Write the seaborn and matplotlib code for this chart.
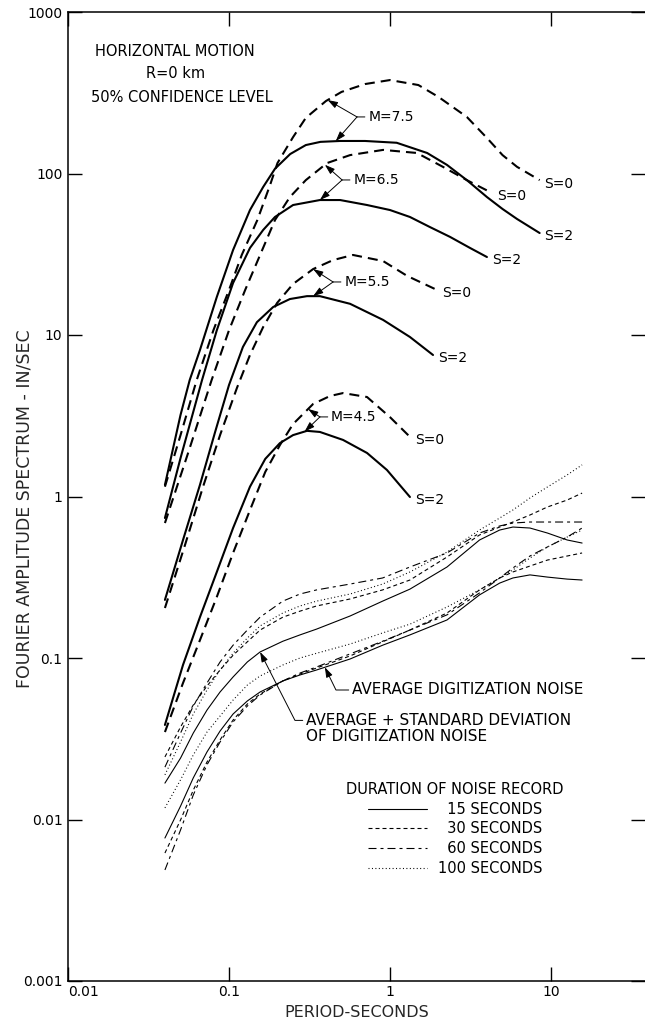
import numpy as np
import matplotlib
matplotlib.use("Agg")
import matplotlib.pyplot as plt
import seaborn as sns
from matplotlib.lines import Line2D
from matplotlib.ticker import NullLocator

# ---------------- data (period in s, amplitude in in/sec) ----------------
M75_S2_PERIOD = [0.04, 0.05, 0.057, 0.066, 0.084, 0.106, 0.135, 0.163, 0.193, 0.24, 0.3,
                 0.37, 0.49, 0.7, 1.1, 1.7, 2.26, 3.0, 4.0, 5.0, 6.15, 8.5]
M75_S2_AMP = [1.18, 3.2, 5.26, 8.07, 17.2, 33.6, 59.4, 82.5, 107, 132, 150,
              157, 159, 159, 155, 134, 113, 91, 71.5, 60.3, 52.3, 42.8]

M75_S0_PERIOD = [0.04, 0.05, 0.063, 0.08, 0.1, 0.12, 0.15, 0.18, 0.2, 0.25, 0.3,
                 0.4, 0.5, 0.7, 1.0, 1.5, 2.0, 3.0, 4.0, 5.0, 6.15, 8.5]
M75_S0_AMP = [1.15, 2.4, 5.26, 10.7, 19.0, 31.3, 51.5, 85, 116, 168, 221,
              281, 320, 358, 379, 353, 298, 224, 166, 130, 110, 91]

M65_S2_PERIOD = [0.04, 0.05, 0.068, 0.084, 0.106, 0.135, 0.163, 0.193, 0.25, 0.367,
                 0.49, 0.72, 1.0, 1.33, 1.77, 2.36, 3.14, 4.0]
M65_S2_AMP = [0.736, 1.73, 5.26, 10.7, 21.0, 34.6, 44.7, 53.8, 63.8, 68.5,
              68.5, 63.8, 59.4, 53.8, 46.6, 40.5, 34.6, 30.4]

M65_S0_PERIOD = [0.04, 0.0565, 0.078, 0.1, 0.126, 0.156, 0.193, 0.239, 0.3, 0.406,
                 0.565, 0.906, 1.47, 2.13, 3.0, 4.3]
M65_S0_AMP = [0.685, 1.94, 5.26, 10.7, 19.0, 31.3, 51.5, 71.5, 91, 116,
              130, 140, 134, 110, 91, 75.7]

M55_S2_PERIOD = [0.04, 0.0518, 0.066, 0.082, 0.1, 0.122, 0.149, 0.188, 0.239, 0.305,
                 0.367, 0.565, 0.906, 1.33, 1.85]
M55_S2_AMP = [0.229, 0.538, 1.18, 2.51, 4.90, 8.43, 12.0, 14.9, 16.7, 17.4,
              17.4, 15.6, 12.4, 9.72, 7.52]

M55_S0_PERIOD = [0.04, 0.0533, 0.069, 0.088, 0.112, 0.135, 0.163, 0.199, 0.25, 0.333,
                 0.443, 0.589, 0.906, 1.28, 1.96]
M55_S0_AMP = [0.204, 0.501, 1.15, 2.40, 4.70, 7.52, 11.2, 15.8, 20.7, 25.6,
              29.1, 31.3, 28.7, 23.2, 19.0]

M45_S2_PERIOD = [0.04, 0.0518, 0.066, 0.084, 0.106, 0.135, 0.168, 0.207, 0.25, 0.305,
                 0.367, 0.511, 0.72, 0.957, 1.33]
M45_S2_AMP = [0.0385, 0.0906, 0.179, 0.341, 0.638, 1.15, 1.71, 2.14, 2.40, 2.55,
              2.51, 2.24, 1.86, 1.46, 0.993]

M45_S0_PERIOD = [0.04, 0.0518, 0.066, 0.084, 0.106, 0.135, 0.168, 0.207, 0.25, 0.333,
                 0.424, 0.511, 0.72, 1.0, 1.33]
M45_S0_AMP = [0.0348, 0.070, 0.129, 0.239, 0.447, 0.824, 1.42, 2.08, 2.81, 3.74,
              4.19, 4.37, 4.13, 3.10, 2.34]

# digitization noise
NOISE_PERIOD = [0.04, 0.05, 0.06, 0.073, 0.088, 0.106, 0.13, 0.156, 0.216, 0.276, 0.35,
                0.565, 0.9, 1.33, 2.26, 3.6, 4.8, 5.8, 7.4, 9.5, 12.6, 15.6]
AVG_STD_15 = [0.0168, 0.0240, 0.0343, 0.0476, 0.0616, 0.0763, 0.0945, 0.109, 0.127, 0.139, 0.151,
              0.182, 0.225, 0.267, 0.366, 0.538, 0.620, 0.647, 0.638, 0.594, 0.538, 0.515]
AVG_STD_30 = [0.0244, 0.0374, 0.0512, 0.0671, 0.0843, 0.104, 0.126, 0.149, 0.179, 0.195, 0.210,
              0.232, 0.264, 0.304, 0.422, 0.578, 0.647, 0.695, 0.768, 0.861, 0.951, 1.05]
AVG_STD_60 = [0.0211, 0.0343, 0.0504, 0.0700, 0.0945, 0.120, 0.149, 0.179, 0.225, 0.249, 0.264,
              0.287, 0.313, 0.366, 0.447, 0.594, 0.657, 0.685, 0.695, 0.695, 0.695, 0.695]
AVG_STD_100 = [0.0189, 0.0302, 0.0450, 0.0634, 0.0843, 0.107, 0.133, 0.158, 0.190, 0.210, 0.225,
               0.249, 0.287, 0.341, 0.453, 0.620, 0.736, 0.825, 0.979, 1.145, 1.36, 1.57]
AVG_15 = [0.00768, 0.0121, 0.0181, 0.0262, 0.0353, 0.0450, 0.0542, 0.0616, 0.0721, 0.0785, 0.0843,
          0.0986, 0.120, 0.139, 0.172, 0.246, 0.291, 0.313, 0.327, 0.317, 0.308, 0.304]
AVG_30 = [0.00620, 0.00993, 0.0152, 0.0227, 0.0311, 0.0413, 0.0519, 0.0598, 0.0721, 0.0796, 0.0867,
          0.103, 0.126, 0.149, 0.190, 0.264, 0.313, 0.341, 0.371, 0.404, 0.428, 0.447]
AVG_60 = [0.00487, 0.00861, 0.0142, 0.0218, 0.0302, 0.0402, 0.0504, 0.0590, 0.0721, 0.0807, 0.0880,
          0.106, 0.127, 0.149, 0.185, 0.253, 0.313, 0.361, 0.428, 0.487, 0.561, 0.638]
AVG_100 = [0.0118, 0.0176, 0.0251, 0.0348, 0.0437, 0.0549, 0.0680, 0.0774, 0.0905, 0.100, 0.107,
           0.122, 0.143, 0.162, 0.207, 0.264, 0.313, 0.351, 0.416, 0.487, 0.561, 0.620]

X_TICKS = [0.01, 0.1, 1, 10]
X_TICK_LABELS = ["0.01", "0.1", "1", "10"]
Y_TICKS = [0.001, 0.01, 0.1, 1, 10, 100, 1000]
Y_TICK_LABELS = ["0.001", "0.01", "0.1", "1", "10", "100", "1000"]
DURATION_LABELS = ["  15 SECONDS", "  30 SECONDS", "  60 SECONDS", "100 SECONDS"]

# ---------------- style ----------------
sns.set_theme(style="ticks")
plt.rcParams["font.family"] = ["DejaVu Sans"]
plt.rcParams["text.color"] = "black"

W, H = 645, 1023
fig = plt.figure(figsize=(W / 100, H / 100), dpi=100)
fig.patch.set_facecolor("white")
AX_L, AX_R, AX_T, AX_B = 68, 645, 12, 981
ax = fig.add_axes([AX_L / W, (H - AX_B) / H, (AX_R - AX_L) / W, (AX_B - AX_T) / H])
ax.set_facecolor("white")
ax.set_xscale("log")
ax.set_yscale("log")
DEC = 161.0
ax.set_xlim(0.01, 10 ** (-2 + (AX_R - AX_L) / DEC))
ax.set_ylim(0.001, 1000)


def frac(px, py):
    """pixel position -> axes fraction (layout helper for text only)"""
    return ((px - AX_L) / (AX_R - AX_L), (AX_B - py) / (AX_B - AX_T))


EQ_LW = 1.5
NZ_LW = 0.8
SOLID = "-"
EQ_DASH = (0, (4.8, 2.9))
NZ_30 = (0, (3.6, 2.7))
NZ_60 = (0, (7.2, 3.6, 2.7, 3.6))
NZ_100 = (0, (0.9, 2.2))


def draw(per, amp, lw, ls):
    sns.lineplot(x=per, y=amp, ax=ax, color="black", sort=False, estimator=None,
                 errorbar=None, legend=False, lw=lw, linestyle=ls)


eq_curves = [
    (M75_S2_PERIOD, M75_S2_AMP, SOLID, "S=2"),
    (M75_S0_PERIOD, M75_S0_AMP, EQ_DASH, "S=0"),
    (M65_S2_PERIOD, M65_S2_AMP, SOLID, "S=2"),
    (M65_S0_PERIOD, M65_S0_AMP, EQ_DASH, "S=0"),
    (M55_S2_PERIOD, M55_S2_AMP, SOLID, "S=2"),
    (M55_S0_PERIOD, M55_S0_AMP, EQ_DASH, "S=0"),
    (M45_S2_PERIOD, M45_S2_AMP, SOLID, "S=2"),
    (M45_S0_PERIOD, M45_S0_AMP, EQ_DASH, "S=0"),
]
for per, amp, ls, lab in eq_curves:
    draw(per, amp, EQ_LW, ls)
    ax.annotate(lab, xy=(per[-1], amp[-1]), xytext=(3.5, -2.5), textcoords="offset points",
                ha="left", va="center", fontsize=10)

noise_styles = [SOLID, NZ_30, NZ_60, NZ_100]
for series, ls in zip([AVG_STD_15, AVG_STD_30, AVG_STD_60, AVG_STD_100], noise_styles):
    draw(NOISE_PERIOD, series, NZ_LW, ls)
for series, ls in zip([AVG_15, AVG_30, AVG_60, AVG_100], noise_styles):
    draw(NOISE_PERIOD, series, NZ_LW, ls)


def on_curve(per, amp, p):
    return 10 ** np.interp(np.log10(p), np.log10(per), np.log10(amp))


# magnitude labels with forked arrows
mag_labels = [
    ("M=7.5", (0.624, 224), (M75_S0_PERIOD, M75_S0_AMP, 0.41), (M75_S2_PERIOD, M75_S2_AMP, 0.46)),
    ("M=6.5", (0.504, 91.2), (M65_S0_PERIOD, M65_S0_AMP, 0.394), (M65_S2_PERIOD, M65_S2_AMP, 0.367)),
    ("M=5.5", (0.443, 21.3), (M55_S0_PERIOD, M55_S0_AMP, 0.333), (M55_S2_PERIOD, M55_S2_AMP, 0.333)),
    ("M=4.5", (0.367, 3.11), (M45_S0_PERIOD, M45_S0_AMP, 0.31), (M45_S2_PERIOD, M45_S2_AMP, 0.295)),
]
arrow_kw = dict(arrowstyle="-|>,head_length=0.6,head_width=0.2", color="black", lw=0.7,
                shrinkA=0, shrinkB=0, mutation_scale=10)
for text, vertex, (pd_, ad_, tp1), (ps_, as_, tp2) in mag_labels:
    ax.annotate(text, xy=vertex, xytext=(8, 0), textcoords="offset points", ha="left",
                va="center", fontsize=10,
                arrowprops=dict(arrowstyle="-", color="black", lw=0.7, shrinkA=0, shrinkB=0))
    for per, amp, tp in [(pd_, ad_, tp1), (ps_, as_, tp2)]:
        ax.annotate("", xy=(tp, on_curve(per, amp, tp)), xytext=vertex, arrowprops=arrow_kw)

# noise annotations
ax.annotate("AVERAGE DIGITIZATION NOISE",
            xy=(0.394, on_curve(NOISE_PERIOD, AVG_15, 0.394)),
            xytext=frac(352, 690), textcoords="axes fraction", ha="left", va="center",
            fontsize=11,
            arrowprops=dict(arrowstyle="-|>,head_length=0.6,head_width=0.2", color="black",
                            lw=0.7, shrinkA=0, shrinkB=0, mutation_scale=10, relpos=(0, 0.5),
                            connectionstyle="angle,angleA=180,angleB=-64,rad=0"))
ax.annotate("AVERAGE + STANDARD DEVIATION\nOF DIGITIZATION NOISE",
            xy=(0.156, on_curve(NOISE_PERIOD, AVG_STD_15, 0.156)),
            xytext=frac(306, 728.5), textcoords="axes fraction", ha="left", va="center",
            fontsize=11, linespacing=1.1,
            arrowprops=dict(arrowstyle="-|>,head_length=0.6,head_width=0.2", color="black",
                            lw=0.7, shrinkA=0, shrinkB=0, mutation_scale=10, relpos=(0, 0.76),
                            connectionstyle="angle,angleA=180,angleB=-63,rad=0"))

# header text
for txt, px, py in [("HORIZONTAL MOTION", 175, 52), ("R=0 km", 176, 73),
                    ("50% CONFIDENCE LEVEL", 182, 97)]:
    ax.text(*frac(px, py), txt, transform=ax.transAxes, ha="center", va="center",
            fontsize=10.5)

# legend
handles = [Line2D([], [], color="black", lw=NZ_LW, linestyle=ls) for ls in noise_styles]
leg = ax.legend(handles, DURATION_LABELS, title="DURATION OF NOISE RECORD",
                loc="upper left", bbox_to_anchor=frac(346, 782), frameon=False,
                fontsize=10.5, title_fontsize=10.5, handlelength=4.1, handletextpad=0.7,
                labelspacing=0.32, borderpad=0, borderaxespad=0)

# axes, ticks
ax.set_xticks(X_TICKS)
ax.set_xticklabels(X_TICK_LABELS)
ax.set_yticks(Y_TICKS)
ax.set_yticklabels(Y_TICK_LABELS)
ax.xaxis.set_minor_locator(NullLocator())
ax.yaxis.set_minor_locator(NullLocator())
ax.tick_params(which="major", direction="in", length=10, width=1.0, top=True, right=True,
               labelsize=10, colors="black")
ax.tick_params(axis="y", pad=4)
ax.tick_params(axis="x", pad=3)
ax.get_xticklabels()[0].set_horizontalalignment("left")
for side in ["left", "bottom", "top"]:
    ax.spines[side].set_linewidth(1.1)
    ax.spines[side].set_color("black")
ax.spines["right"].set_visible(False)
ax.grid(False)

ax.set_xlabel("PERIOD-SECONDS", fontsize=11.5)
ax.set_ylabel("FOURIER AMPLITUDE SPECTRUM - IN/SEC", fontsize=12.5)
ax.xaxis.set_label_coords(0.5, -0.0248)
ax.yaxis.set_label_coords(-0.059, 0.487)

fig.savefig("out.png", dpi=100, facecolor="white")
